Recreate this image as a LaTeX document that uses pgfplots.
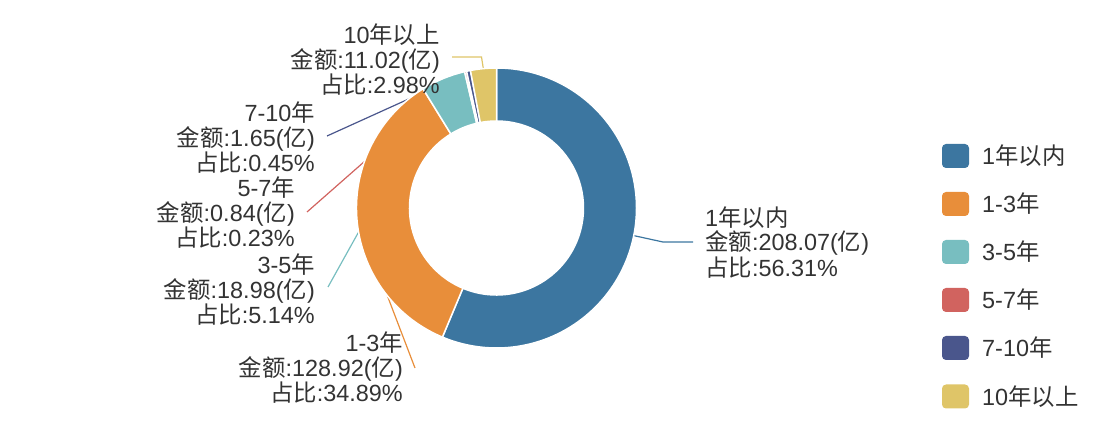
\documentclass[border=0pt]{standalone}
\usepackage{pgfplots}
\pgfplotsset{compat=1.18}
\usepackage{pgfplotstable}
\usepackage{fontspec}
\setmainfont{Liberation Sans}
\newfontfamily\cjk{Noto Sans CJK SC}
\newcommand\zh[1]{{\cjk #1}}
\definecolor{c0}{HTML}{3C76A0}
\definecolor{c1}{HTML}{E88E3A}
\definecolor{c2}{HTML}{78BEC0}
\definecolor{c3}{HTML}{D1635F}
\definecolor{c4}{HTML}{4A568C}
\definecolor{c5}{HTML}{DFC568}
\definecolor{txt}{HTML}{333333}

% value, label-line knee (kx,ky) and end (ex,ey) in picture pixels (y from top)
\pgfplotstableread{
idx value  kx    ky  ex  ey
0   208.07 663   242 693 242
1   128.92 415   368 415 368
2   18.98  328   287 328 287
3   0.84   307   212 307 212
4   1.65   327   136 327 136
5   11.02  481.5 57  452 57
}\data

\begin{document}
\begin{tikzpicture}
\begin{axis}[width=1100bp,height=428bp,scale only axis,hide axis,clip=false,
  enlargelimits=false,xmin=0,xmax=1100,ymin=0,ymax=428]
\def\total{0}
\pgfplotsforeachungrouped \i in {0,...,5}{%
  \pgfplotstablegetelem{\i}{value}\of\data
  \pgfmathsetmacro\total{\total+\pgfplotsretval}%
}
\def\cum{0}
\def\linecmds{}
\def\slicecmds{}
\pgfplotsforeachungrouped \i in {0,...,5}{%
  \pgfplotstablegetelem{\i}{value}\of\data \let\v\pgfplotsretval
  \pgfmathsetmacro\aS{90-360*(\cum/\total)}%
  \pgfmathsetmacro\cum{\cum+\v}%
  \pgfmathsetmacro\aE{90-360*(\cum/\total)}%
  \pgfmathsetmacro\aM{(\aS+\aE)/2}%
  \pgfmathsetmacro\ox{496.5+140*cos(\aS)}%
  \pgfmathsetmacro\oy{220+140*sin(\aS)}%
  \pgfmathsetmacro\ix{496.5+87*cos(\aE)}%
  \pgfmathsetmacro\iy{220+87*sin(\aE)}%
  \pgfmathsetmacro\mx{496.5+139*cos(\aM)}%
  \pgfmathsetmacro\my{220+139*sin(\aM)}%
  \pgfplotstablegetelem{\i}{kx}\of\data \let\kx\pgfplotsretval
  \pgfplotstablegetelem{\i}{ky}\of\data \pgfmathsetmacro\ky{428-\pgfplotsretval}%
  \pgfplotstablegetelem{\i}{ex}\of\data \let\ex\pgfplotsretval
  \pgfplotstablegetelem{\i}{ey}\of\data \pgfmathsetmacro\ey{428-\pgfplotsretval}%
  \edef\linecmds{\unexpanded\expandafter{\linecmds}\noexpand\draw[c\i, line width=1.2bp] (axis cs:\mx,\my) -- (axis cs:\kx,\ky) -- (axis cs:\ex,\ey);}%
  \edef\slicecmds{\unexpanded\expandafter{\slicecmds}\noexpand\filldraw[fill=c\i, draw=white, line width=1.5bp, line join=round] (axis cs:\ox,\oy) arc[start angle=\aS, end angle=\aE, radius=140bp] -- (axis cs:\ix,\iy) arc[start angle=\aE, end angle=\aS, radius=87bp] -- cycle;}%
}
\linecmds
\slicecmds

\tikzset{lab/.style={inner sep=0pt, text=txt, font=\fontsize{23.5}{24.5}\selectfont}}
\node[lab, anchor=west, align=left] at (axis cs:705,185.5) {1\zh{年以内}\\\zh{金额}:208.07(\zh{亿})\\\zh{占比}:56.31\%};
\node[lab, anchor=east, align=right] at (axis cs:403,60) {1-3\zh{年}\\\zh{金额}:128.92(\zh{亿})\\\zh{占比}:34.89\%};
\node[lab, anchor=east, align=right] at (axis cs:315,138) {3-5\zh{年}\\\zh{金额}:18.98(\zh{亿})\\\zh{占比}:5.14\%};
\node[lab, anchor=east, align=right] at (axis cs:295,215) {5-7\zh{年}\\\zh{金额}:0.84(\zh{亿})\\\zh{占比}:0.23\%};
\node[lab, anchor=east, align=right] at (axis cs:315,290) {7-10\zh{年}\\\zh{金额}:1.65(\zh{亿})\\\zh{占比}:0.45\%};
\node[lab, anchor=east, align=right] at (axis cs:440,368) {10\zh{年以上}\\\zh{金额}:11.02(\zh{亿})\\\zh{占比}:2.98\%};

% legend
\tikzset{leg/.style={inner sep=0pt, text=txt, anchor=west, font=\fontsize{23.5}{24}\selectfont}}
\fill[c0, rounded corners=4bp] (axis cs:942,284) rectangle (axis cs:969,260);
\node[leg] at (axis cs:982,272) {1\zh{年以内}};
\fill[c1, rounded corners=4bp] (axis cs:942,236) rectangle (axis cs:969,212);
\node[leg] at (axis cs:982,224) {1-3\zh{年}};
\fill[c2, rounded corners=4bp] (axis cs:942,188) rectangle (axis cs:969,164);
\node[leg] at (axis cs:982,176) {3-5\zh{年}};
\fill[c3, rounded corners=4bp] (axis cs:942,140) rectangle (axis cs:969,116);
\node[leg] at (axis cs:982,128) {5-7\zh{年}};
\fill[c4, rounded corners=4bp] (axis cs:942,92) rectangle (axis cs:969,68);
\node[leg] at (axis cs:982,80) {7-10\zh{年}};
\fill[c5, rounded corners=4bp] (axis cs:942,43.5) rectangle (axis cs:969,19.5);
\node[leg] at (axis cs:982,31.5) {10\zh{年以上}};
\end{axis}
\pgfresetboundingbox
\useasboundingbox (0,0) rectangle (1100bp,428bp);
\end{tikzpicture}
\end{document}
